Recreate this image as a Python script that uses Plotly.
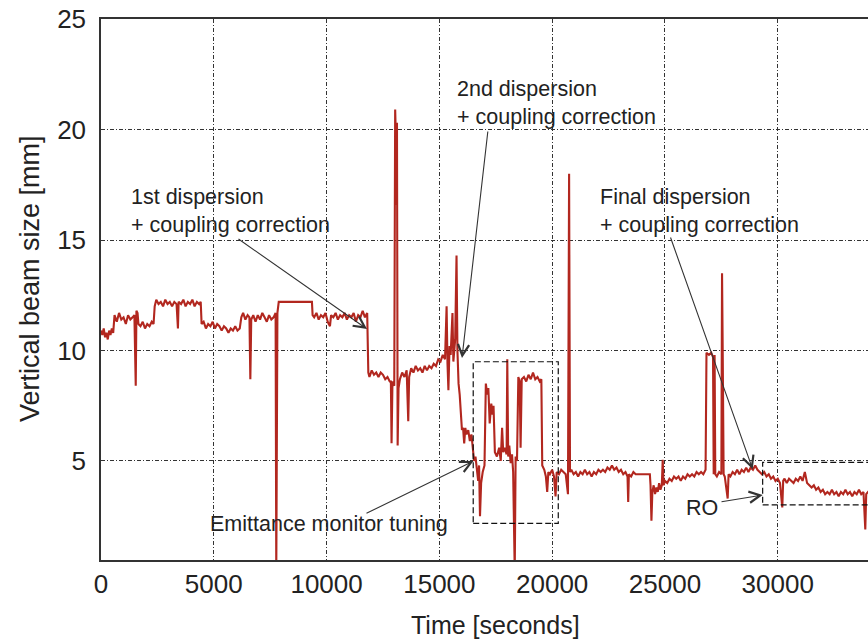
import plotly.graph_objects as go

# ---------------- data ----------------
t1 = [0, 60, 120, 180, 240, 300, 360, 420, 480, 540,
      600, 700, 800, 900, 1000, 1100, 1200, 1300, 1400, 1480, 1540, 1570, 1620, 1660, 1750, 1850, 1950, 2050, 2150, 2250, 2330,
      2380, 2450, 2550, 2650, 2750, 2850, 2950, 3050, 3150, 3250, 3350, 3410, 3440, 3550, 3650, 3750, 3850, 3950, 4050, 4150, 4250, 4350, 4420,
      4460, 4550, 4650, 4750, 4850, 4950, 5050, 5150, 5250, 5350, 5450, 5550, 5650, 5750, 5850, 5950, 6050, 6150,
      6220, 6300, 6400, 6500, 6580, 6620, 6660, 6750, 6850, 6950, 7050, 7150, 7250, 7350, 7450, 7550, 7650, 7740, 7770, 7820, 7880]
v1 = [10.9, 10.7, 11.0, 10.6, 10.8, 10.5, 10.9, 10.7, 11.0, 10.8,
      11.6, 11.3, 11.7, 11.4, 11.5, 11.2, 11.6, 11.4, 11.5, 11.6, 8.4, 11.8, 11.7, 11.2, 11.1, 11.3, 11.0, 11.2, 11.1, 11.3, 11.2,
      12.0, 12.3, 12.1, 12.2, 12.0, 12.3, 12.1, 12.2, 12.0, 12.2, 12.1, 11.0, 12.2, 12.1, 12.3, 12.0, 12.2, 12.1, 12.3, 12.0, 12.2, 12.1, 12.2,
      11.2, 11.3, 11.0, 11.2, 11.1, 11.3, 11.0, 11.2, 11.1, 10.9, 11.1, 11.0, 10.8, 11.0, 10.9, 11.1, 10.9, 11.0,
      11.5, 11.7, 11.4, 11.6, 11.5, 8.7, 11.4, 11.6, 11.3, 11.6, 11.4, 11.7, 11.5, 11.3, 11.6, 11.4, 11.5, 11.7, 0.0, 11.7, 12.2]

t2 = [9350, 9380, 9450, 9550, 9650, 9750, 9850, 9950, 10050, 10150, 10200, 10300, 10400, 10500, 10600, 10700, 10800, 10900, 11000, 11100,
      11200, 11300, 11400, 11500, 11600, 11700, 11800,
      11850, 11900, 12000, 12100, 12200, 12300, 12400, 12500, 12600, 12700, 12800, 12850, 12880, 12920, 13000]
v2 = [12.2, 11.6, 11.5, 11.7, 11.4, 11.6, 11.5, 11.7, 11.3, 11.1, 11.6, 11.5, 11.7, 11.4, 11.6, 11.5, 11.7, 11.4, 11.6, 11.5,
      11.7, 11.3, 11.6, 11.5, 11.8, 11.5, 11.7,
      9.0, 8.8, 9.1, 8.9, 9.0, 8.8, 9.0, 8.9, 8.7, 8.8, 8.6, 8.6, 5.8, 8.6, 8.4]

t3 = [13040, 13070, 13100, 13120, 13150, 13190, 13250, 13350, 13450, 13550, 13620, 13660, 13750, 13850, 13950, 14050, 14150, 14250, 14350, 14450,
      14550, 14650, 14750, 14850, 14950, 15050, 15150, 15250,
      15320, 15360, 15400, 15450, 15500, 15580, 15620, 15700, 15760, 15800, 15850, 15900, 15950, 16000, 16050, 16100, 16150, 16200, 16280, 16350,
      16420, 16480, 16540]
v3 = [20.9, 19.7, 16.6, 20.3, 5.7, 8.3, 8.7, 9.0, 8.8, 9.1, 6.8, 8.8, 9.2, 9.0, 9.3, 9.1, 9.2, 9.0, 9.3, 9.1,
      9.3, 9.2, 9.4, 9.3, 9.6, 9.5, 9.8, 9.6,
      12.0, 9.4, 8.2, 10.2, 9.8, 11.7, 9.5, 10.5, 14.3, 10.0, 8.5, 8.0, 7.0, 6.4, 6.5, 5.8, 6.5, 6.2, 6.4, 5.9,
      6.2, 5.6, 5.0]

t4 = [16600, 16680, 16720, 16760, 16800, 16850, 16920, 17000, 17060, 17120, 17170, 17230, 17300, 17360, 17400, 17460, 17550, 17650, 17720, 17780,
      17830, 17900, 17980, 18010, 18050, 18100, 18160, 18220, 18270, 18340, 18380, 18440, 18500, 18560, 18600, 18650,
      18750, 18850, 18950, 19050, 19150, 19250, 19350, 19450, 19520, 19560, 19650, 19720, 19780, 19830, 19900, 20000, 20080, 20150, 20200, 20300,
      20400, 20500, 20600, 20700]
v4 = [5.2, 4.6, 4.1, 4.8, 2.5, 4.0, 4.5, 4.8, 8.5, 8.0, 8.3, 6.7, 7.6, 7.1, 7.5, 5.4, 5.2, 5.6, 5.0, 6.5,
      5.4, 5.6, 5.3, 9.6, 5.2, 5.7, 4.9, 5.3, 4.5, 0.0, 5.2, 5.0, 8.8, 8.6, 5.6, 8.7,
      8.8, 8.6, 8.9, 8.7, 9.0, 8.7, 8.8, 8.6, 8.7, 4.8, 4.6, 4.3, 3.6, 4.5, 4.4, 4.6, 4.3, 3.4, 4.5, 4.4,
      4.6, 4.5, 4.4, 3.5]

t5 = [20750, 20790, 20850, 20950, 21050, 21150, 21250, 21350, 21450, 21550, 21650, 21750, 21850, 21950, 22050, 22150, 22250, 22350, 22450, 22550,
      22650, 22750, 22850, 22950, 23050, 23150, 23250, 23340, 23370, 23400, 23500, 23600, 23700, 23760,
      24330, 24360, 24400, 24440, 24500, 24560, 24620, 24680, 24740, 24800, 24860, 24900, 24940, 25000, 25100, 25200, 25300, 25400, 25500, 25600,
      25700, 25800, 25900, 26000, 26100, 26200, 26300, 26400, 26500, 26600, 26700, 26800]
v5 = [18.0, 4.5, 4.6, 4.4, 4.5, 4.3, 4.5, 4.4, 4.6, 4.4, 4.5, 4.3, 4.5, 4.4, 4.6, 4.5, 4.6, 4.5, 4.7, 4.6,
      4.8, 4.6, 4.7, 4.5, 4.6, 4.4, 4.5, 4.3, 3.15, 4.4, 4.3, 4.5, 4.4, 4.4,
      4.4, 3.9, 2.3, 3.6, 3.9, 3.5, 3.8, 3.6, 4.0, 3.7, 3.9, 5.05, 3.9, 4.1, 4.0, 4.2, 4.1, 4.3, 4.2, 4.3,
      4.1, 4.3, 4.2, 4.4, 4.3, 4.4, 4.3, 4.5, 4.4, 4.5, 4.4, 4.6]

t6 = [26840, 26950, 27050, 27130, 27160, 27200, 27230, 27300, 27400, 27500, 27530, 27560, 27600, 27650, 27780, 27820, 27900, 28000, 28100, 28200,
      28300, 28400, 28500, 28600, 28700, 28800, 28900, 29000, 29100, 29200, 29300, 29400, 29500, 29600, 29700, 29800, 29900, 30000, 30100, 30200,
      30240,
      30300, 30400, 30500, 30600, 30700, 30800, 30900, 31000, 31100, 31200, 31300, 31400, 31500, 31600, 31700, 31800, 31900, 32000, 32100, 32200,
      32300, 32400, 32500, 32600, 32700, 32800, 32900, 33000, 33100, 33200, 33300, 33400, 33500, 33600, 33700, 33800, 33880, 33920, 34000, 34100]
v6 = [9.9, 9.8, 9.9, 9.7, 4.4, 9.8, 4.4, 4.3, 4.5, 4.4, 13.5, 9.9, 4.4, 4.3, 3.3, 4.4, 4.3, 4.5, 4.4, 4.6,
      4.4, 4.6, 4.5, 4.7, 4.5, 4.7, 4.6, 4.8, 4.6, 4.5, 4.4, 4.5, 4.3, 4.4, 4.2, 4.3, 4.1, 4.2, 4.0, 2.9,
      4.1,
      4.2, 4.0, 4.2, 4.1, 4.0, 4.2, 4.1, 4.3, 4.1, 4.5, 4.0, 3.9, 3.8, 3.9, 3.7, 3.8, 3.6, 3.7, 3.5, 3.6,
      3.5, 3.7, 3.5, 3.6, 3.4, 3.6, 3.5, 3.7, 3.5, 3.6, 3.4, 3.6, 3.5, 3.7, 3.5, 3.6, 1.9, 3.5, 3.6, 3.5]

time_s = t1 + t2 + t3 + t4 + t5 + t6
size_mm = v1 + v2 + v3 + v4 + v5 + v6

x_ticks = [0, 5000, 10000, 15000, 20000, 25000, 30000]
y_ticks = [5, 10, 15, 20, 25]

# ---------------- geometry ----------------
W, H = 868, 640
L, R, T, B = 101, 868, 19, 560
X0, X1 = 0, 34000
Y0, Y1 = 0.52, 25


def dx(px):
    return X0 + (px - L) / (R - L) * (X1 - X0)


def dy(py):
    return Y1 - (py - T) / (B - T) * (Y1 - Y0)


def pxp(px):
    return (px - L) / (R - L)


def pyp(py):
    return (B - py) / (B - T)


FONT = "Liberation Sans, Arial, sans-serif"
INK = "#222222"

fig = go.Figure()
fig.add_trace(go.Scatter(x=time_s, y=size_mm, mode="lines",
                         line=dict(color="#B2271F", width=2.1),
                         showlegend=False, hoverinfo="skip"))

# dashed boxes
box_dash = "6px,3px"
fig.add_shape(type="rect", xref="x", yref="y", x0=16500, x1=20270, y0=2.18, y1=9.49,
              line=dict(color="#111111", width=1.2, dash=box_dash))
fig.add_shape(type="rect", xref="x", yref="y", x0=29330, x1=36000, y0=3.01, y1=4.94,
              line=dict(color="#111111", width=1.2, dash=box_dash))

ann = []
# text labels
texts = [
    ("1st dispersion<br>+ coupling correction", 129, 211.5, "left"),
    ("2nd dispersion<br>+ coupling correction", 455, 103.5, "left"),
    ("Final dispersion<br>+ coupling correction", 598, 210.5, "left"),
    ("Emittance monitor tuning", 329, 524, "center"),
    ("RO", 702, 508, "center"),
]
for txt, px, py, anc in texts:
    ann.append(dict(text=txt, xref="paper", yref="paper", x=pxp(px), y=pyp(py),
                    xanchor=anc, yanchor="middle", align="left", showarrow=False,
                    font=dict(family=FONT, size=21.5, color=INK)))

# arrows (tail px, tail py, head px, head py)
arrows = [
    (237, 238, 367, 329),
    (488, 130, 462, 358),
    (670, 236, 752.7, 469.3),
    (365, 514, 473.5, 461),
    (720, 502, 762.7, 495),
]
for tx, ty, hx, hy in arrows:
    ann.append(dict(text="", xref="x", yref="y", axref="x", ayref="y",
                    x=dx(hx), y=dy(hy), ax=dx(tx), ay=dy(ty),
                    showarrow=True, arrowhead=5, arrowsize=2.0, arrowwidth=1.1,
                    arrowcolor="#333333", standoff=0, startstandoff=0))

# axis titles
ann.append(dict(text="Time [seconds]", xref="paper", yref="paper", x=pxp(495), y=pyp(625),
                xanchor="center", yanchor="middle", showarrow=False,
                font=dict(family=FONT, size=25, color=INK)))
ann.append(dict(text="Vertical beam size [mm]", xref="paper", yref="paper", x=pxp(30), y=pyp(279),
                xanchor="center", yanchor="middle", showarrow=False, textangle=-90,
                font=dict(family=FONT, size=27, color=INK)))

grid_dash = "4px,2px,1px,2px"
fig.update_layout(
    width=W, height=H,
    margin=dict(l=L, r=W - R, t=T, b=H - B, pad=0),
    plot_bgcolor="white", paper_bgcolor="white",
    font=dict(family=FONT, color=INK),
    annotations=ann,
    xaxis=dict(range=[X0, X1], tickvals=x_ticks, ticktext=[str(v) for v in x_ticks],
               showgrid=True, gridcolor="#333333", gridwidth=1, griddash=grid_dash,
               zeroline=False, showline=True, linecolor="#333333", linewidth=1.5, mirror=True,
               ticks="", tickfont=dict(family=FONT, size=26, color=INK)),
    yaxis=dict(range=[Y0, Y1], tickvals=y_ticks, ticktext=[str(v) for v in y_ticks],
               showgrid=True, gridcolor="#333333", gridwidth=1, griddash=grid_dash,
               zeroline=False, showline=True, linecolor="#333333", linewidth=1.5, mirror=False,
               ticks="", ticklabelstandoff=8, tickfont=dict(family=FONT, size=26, color=INK)),
)

fig.write_html("out.html", config={"displayModeBar": False},
               post_script="document.body.style.margin='0px';document.body.style.overflow='hidden';")
